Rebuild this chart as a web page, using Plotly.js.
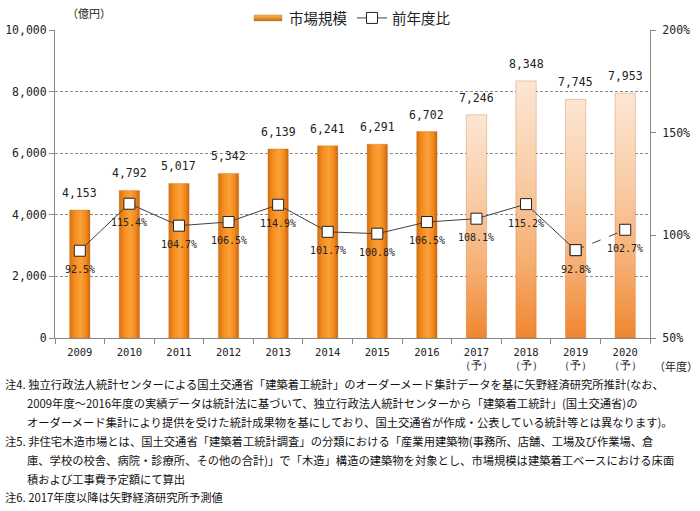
<!DOCTYPE html>
<html>
<head>
<meta charset="utf-8">
<script src="https://cdn.plot.ly/plotly-3.0.1.min.js"></script>
<style>
html,body{margin:0;padding:0;background:#fff;}
#chart{width:700px;height:511px;}
</style>
</head>
<body>
<div id="chart"></div>
<script>
// ---- data ----
const categories = ['2009','2010','2011','2012','2013','2014','2015','2016','2017','2018','2019','2020'];
const tickLabels = ['2009','2010','2011','2012','2013','2014','2015','2016','2017<br>（予）','2018<br>（予）','2019<br>（予）','2020<br>（予）'];
const marketSize = [4153, 4792, 5017, 5342, 6139, 6241, 6291, 6702, 7246, 8348, 7745, 7953];
const yoyRatio = [92.5, 115.4, 104.7, 106.5, 114.9, 101.7, 100.8, 106.5, 108.1, 115.2, 92.8, 102.7];
const forecastFrom = 8; // index of first forecast year
const notes = [
  '注4. 独立行政法人統計センターによる国土交通省「建築着工統計」のオーダーメード集計データを基に矢野経済研究所推計(なお、',
  '2009年度～2016年度の実績データは統計法に基づいて、独立行政法人統計センターから「建築着工統計」(国土交通省)の',
  'オーダーメード集計により提供を受けた統計成果物を基にしており、国土交通省が作成・公表している統計等とは異なります)。',
  '注5. 非住宅木造市場とは、国土交通省「建築着工統計調査」の分類における「産業用建築物(事務所、店舗、工場及び作業場、倉',
  '庫、学校の校舎、病院・診療所、その他の合計)」で「木造」構造の建築物を対象とし、市場規模は建築着工ベースにおける床面',
  '積および工事費予定額にて算出',
  '注6. 2017年度以降は矢野経済研究所予測値'
];

// ---- layout helpers ----
const W = 700, H = 511;
const M = {l: 55, r: 50, t: 30, b: 173, autoexpand: false};
const PW = W - M.l - M.r, PH = H - M.t - M.b;
const px = x => (x - M.l) / PW;
const py = y => (H - M.b - y) / PH;

const monoFont = 'DejaVu Sans Mono, monospace';
const jpFont = 'Noto Sans CJK JP, sans-serif';

const barColors = categories.map((c, i) => i < forecastFrom ? '#F5901F' : '#F8C49A');

const traces = [
  {
    type: 'bar', name: '市場規模', x: categories, y: marketSize,
    marker: {color: barColors, line: {color: 'rgba(190,95,20,0.6)', width: 0.5}},
    width: 0.41, hoverinfo: 'skip'
  },
  {
    type: 'scatter', mode: 'lines+markers', name: '前年度比_dash', showlegend: false,
    x: categories.slice(forecastFrom + 2), y: yoyRatio.slice(forecastFrom + 2), yaxis: 'y2',
    line: {color: '#404040', width: 1, dash: 'dash'},
    marker: {symbol: 'square', size: 11, color: '#fff', line: {color: '#222', width: 1}},
    hoverinfo: 'skip'
  },
  {
    type: 'scatter', mode: 'lines+markers', name: '前年度比',
    x: categories.slice(0, forecastFrom + 3), y: yoyRatio.slice(0, forecastFrom + 3), yaxis: 'y2',
    line: {color: '#404040', width: 1},
    marker: {symbol: 'square', size: 11, color: '#fff', line: {color: '#222', width: 1}},
    hoverinfo: 'skip'
  }
];

const annotations = [];
categories.forEach((c, i) => {
  // category axes position annotations by category index
  annotations.push({
    x: i, y: marketSize[i], xref: 'x', yref: 'y', yshift: 17, showarrow: false,
    text: marketSize[i].toLocaleString('en-US'), yanchor: 'middle',
    font: {family: monoFont, size: 11.5, color: '#222'}
  });
  annotations.push({
    x: i, y: yoyRatio[i], xref: 'x', yref: 'y2', yshift: -19, showarrow: false,
    text: yoyRatio[i].toFixed(1) + '%', yanchor: 'middle',
    font: {family: monoFont, size: 10, color: '#222'}
  });
});
annotations.push({
  xref: 'paper', yref: 'paper', x: px(65), y: py(13), xanchor: 'left', yanchor: 'middle',
  showarrow: false, text: '（億円）', font: {family: jpFont, size: 11, color: '#222'}
});
annotations.push({
  xref: 'paper', yref: 'paper', x: px(652), y: py(366), xanchor: 'left', yanchor: 'middle',
  showarrow: false, text: '（年度）', font: {family: jpFont, size: 11, color: '#222'}
});
const noteY = [384, 403, 422, 441, 460, 479, 497];
const noteX = [3, 25, 25, 3, 25, 25, 3];
notes.forEach((t, i) => {
  annotations.push({
    xref: 'paper', yref: 'paper', x: px(noteX[i]), y: py(noteY[i]), xanchor: 'left', yanchor: 'middle',
    showarrow: false, text: t, font: {family: jpFont, size: 11.3, color: '#111'}
  });
});

const layout = {
  width: W, height: H, margin: M,
  paper_bgcolor: '#fff', plot_bgcolor: '#fff',
  showlegend: true,
  legend: {orientation: 'h', x: 0.5, xanchor: 'center', y: py(18), yanchor: 'middle',
           xref: 'paper', yref: 'paper',
           font: {family: jpFont, size: 14.5, color: '#222'}, traceorder: 'normal',
           bgcolor: 'rgba(0,0,0,0)'},
  xaxis: {
    type: 'category', range: [-0.5, categories.length - 0.5],
    tickvals: categories, ticktext: tickLabels,
    showline: true, linecolor: '#888', linewidth: 1,
    ticks: 'outside', tickson: 'boundaries', ticklen: 5, tickcolor: '#888',
    ticklabelstandoff: 4,
    tickfont: {family: monoFont, size: 10.5, color: '#222'},
    showgrid: false, zeroline: false, fixedrange: true
  },
  yaxis: {
    range: [0, 10000], dtick: 2000, tickformat: ',d',
    showline: true, linecolor: '#888', linewidth: 1,
    ticks: 'outside', ticklen: 5, tickcolor: '#888',
    tickfont: {family: monoFont, size: 11.5, color: '#222'},
    showgrid: true, gridcolor: '#8a8a8a', griddash: '3px,2px', gridwidth: 1,
    zeroline: false, fixedrange: true
  },
  yaxis2: {
    overlaying: 'y', side: 'right', range: [50, 200], dtick: 50, ticksuffix: '%',
    showline: true, linecolor: '#888', linewidth: 1,
    ticks: 'outside', ticklen: 5, tickcolor: '#888',
    ticklabelstandoff: 4,
    tickfont: {family: monoFont, size: 11.5, color: '#222'},
    showgrid: false, zeroline: false, fixedrange: true
  },
  annotations: annotations
};

Plotly.newPlot('chart', traces, layout, {staticPlot: true, displayModeBar: false}).then(gd => {
  // add gradients to bars
  const svg = gd.querySelector('svg.main-svg');
  const ns = 'http://www.w3.org/2000/svg';
  let defs = svg.querySelector('defs');
  if (!defs) { defs = document.createElementNS(ns, 'defs'); svg.insertBefore(defs, svg.firstChild); }
  function grad(id, stops, vertical) {
    const g = document.createElementNS(ns, 'linearGradient');
    g.setAttribute('id', id);
    g.setAttribute('x1', '0'); g.setAttribute('y1', '0');
    g.setAttribute('x2', vertical ? '0' : '1'); g.setAttribute('y2', vertical ? '1' : '0');
    stops.forEach(s => {
      const st = document.createElementNS(ns, 'stop');
      st.setAttribute('offset', s[0]); st.setAttribute('stop-color', s[1]);
      g.appendChild(st);
    });
    defs.appendChild(g);
  }
  grad('gAct', [['0', '#D8700F'], ['0.25', '#F58E1E'], ['0.55', '#FBA03A'], ['0.8', '#F28A1A'], ['1', '#CC6610']], false);
  grad('gFc', [['0', '#FCE6D3'], ['0.35', '#F9CFAA'], ['0.7', '#F6AE72'], ['1', '#F08630']], true);
  grad('gLeg', [['0', '#F6B25A'], ['0.5', '#E8952E'], ['1', '#B86A18']], true);
  const paths = gd.querySelectorAll('.barlayer .trace.bars .point path');
  paths.forEach((p, i) => {
    p.style.fill = i < forecastFrom ? 'url(#gAct)' : 'url(#gFc)';
  });
  // widen the bar legend swatch into a flat bar, as in the original
  const legTraces = gd.querySelectorAll('.legend .traces');
  if (legTraces.length) {
    const lp = legTraces[0].querySelectorAll('.legendpoints path');
    lp.forEach(p => {
      p.setAttribute('d', 'M-15,-3H13V3H-15Z');
      p.style.fill = 'url(#gLeg)';
      p.style.stroke = '#B0661C';
    });
  }
});
</script>
</body>
</html>
